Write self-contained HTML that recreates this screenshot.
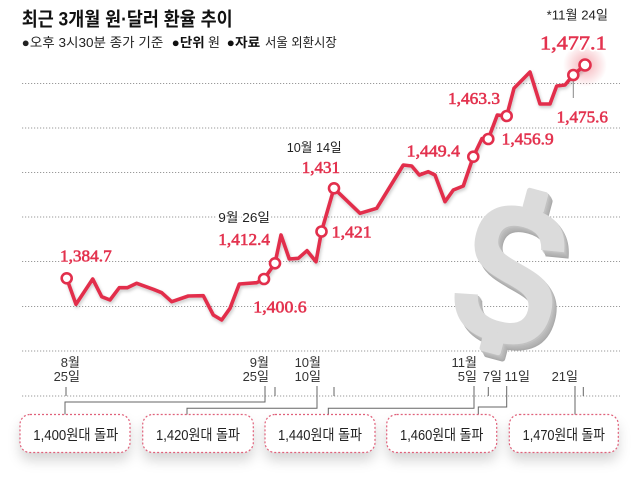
<!DOCTYPE html>
<html><head><meta charset="utf-8"><style>
html,body{margin:0;padding:0;background:#fff;}
svg{display:block;}
.ko{font-family:"Liberation Sans","Noto Sans CJK KR",sans-serif;}
.rk{font-family:"Liberation Serif","Noto Serif CJK SC",serif;fill:#fff;stroke:#fff;stroke-width:4;stroke-linejoin:round;}
.rd{font-family:"Liberation Serif","Noto Serif CJK SC",serif;fill:#e3334f;stroke:#e3334f;stroke-width:0.6;}
.dk{font-family:"Liberation Sans","Noto Sans CJK KR",sans-serif;fill:#222;font-size:13px;stroke:#fff;stroke-width:4;paint-order:stroke;stroke-linejoin:round;}
</style></head><body>
<svg width="640" height="490" viewBox="0 0 640 490" xmlns="http://www.w3.org/2000/svg">
<defs>
<filter id="bs" x="-20%" y="-30%" width="140%" height="200%"><feDropShadow dx="0" dy="8" stdDeviation="6" flood-color="#000" flood-opacity="0.16"/></filter>
<filter id="ls" x="-5%" y="-5%" width="110%" height="115%"><feDropShadow dx="1" dy="2" stdDeviation="1.5" flood-color="#000" flood-opacity="0.22"/></filter>
<radialGradient id="gl"><stop offset="0" stop-color="#e8505f" stop-opacity="0.45"/><stop offset="1" stop-color="#e8505f" stop-opacity="0"/></radialGradient>
<g id="dol">
<text x="0" y="70" text-anchor="middle" font-family="'Liberation Sans',sans-serif" font-weight="bold" font-size="195">S</text>
<rect x="-8" y="-86" width="26" height="22" rx="3"/>
<rect x="-14" y="62" width="26" height="22" rx="3"/>
</g>
</defs>

<!-- title -->
<text class="ko" x="21.7" y="25.5" font-size="19" font-weight="bold" fill="#111" textLength="211" lengthAdjust="spacingAndGlyphs">최근 3개월 원·달러 환율 추이</text>
<text class="ko" x="21.7" y="47" font-size="13" fill="#222" textLength="141.6" lengthAdjust="spacingAndGlyphs">●오후 3시30분 종가 기준</text>
<text class="ko" x="171.7" y="47" font-size="13" font-weight="bold" fill="#111" textLength="33" lengthAdjust="spacingAndGlyphs">●단위</text>
<text class="ko" x="208" y="47" font-size="13" fill="#222" textLength="12" lengthAdjust="spacingAndGlyphs">원</text>
<text class="ko" x="226.7" y="47" font-size="13" font-weight="bold" fill="#111" textLength="33.5" lengthAdjust="spacingAndGlyphs">●자료</text>
<text class="ko" x="265" y="47" font-size="13" fill="#222" textLength="71.7" lengthAdjust="spacingAndGlyphs">서울 외환시장</text>

<!-- gridlines -->
<g stroke="#9a9a9a" stroke-width="1" stroke-dasharray="1.2 1.8">
<line x1="22" y1="83.5" x2="620" y2="83.5"/>
<line x1="22" y1="128" x2="620" y2="128"/>
<line x1="22" y1="172.5" x2="620" y2="172.5"/>
<line x1="22" y1="217" x2="620" y2="217"/>
<line x1="22" y1="261.5" x2="620" y2="261.5"/>
<line x1="22" y1="306.5" x2="620" y2="306.5"/>
<line x1="22" y1="351" x2="620" y2="351"/>
<line x1="22" y1="396" x2="620" y2="396"/>
</g>

<!-- dollar sign -->
<g transform="translate(512 272) rotate(15) scale(0.84 1)">
<use href="#dol" x="7" y="5" fill="#a9a9a9"/>
<use href="#dol" x="6" y="4" fill="#b0b0b0"/>
<use href="#dol" x="5" y="3" fill="#b5b5b5"/>
<use href="#dol" x="3.5" y="2" fill="#bababa"/>
<use href="#dol" x="2" y="1" fill="#c2c2c2"/>
<use href="#dol" x="0" y="0" fill="#dbdbdb"/>
</g>

<!-- glow -->
<circle cx="585" cy="65" r="22" fill="url(#gl)"/>

<!-- line -->
<g filter="url(#ls)">
<polyline fill="none" stroke="#e22f4c" stroke-width="3.6" stroke-linejoin="round" stroke-linecap="round" points="66.7,278.3 76,304.3 92.7,279 101.7,296.7 110,300 119.3,287.7 127.3,287.7 136.7,283.3 153.3,289.3 161.7,292.7 171.7,301.7 188.3,296 203.3,295.7 213.3,315 221.7,320 230,308.3 239.3,284 256.7,282.7 264,279 275,263.3 281,235 289.3,259 298.3,258.3 307,250.7 316,261.7 321.5,231.5 334,188.3 360,213.3 376.7,208.3 403.3,165 411.7,166 419.3,175 428.3,171.7 435,175 445,201.7 453.3,190 463.3,186 473.3,156.7 482,138.5 488.3,139 497.3,115 506.7,116 514,88.3 530,72 540,104 550,104 556.7,86 565,85 573.3,75 585,65"/>
</g>
<line x1="573.3" y1="81" x2="573.3" y2="98" stroke="#888" stroke-width="1"/>
<g fill="#fff" stroke="#e22f4c" stroke-width="2.6">
<circle cx="66.7" cy="278.3" r="5"/>
<circle cx="264" cy="279" r="5"/>
<circle cx="275" cy="263.3" r="5"/>
<circle cx="321.5" cy="231.5" r="5"/>
<circle cx="334" cy="188.3" r="5"/>
<circle cx="473.3" cy="156.7" r="5"/>
<circle cx="488.3" cy="139" r="5"/>
<circle cx="506.7" cy="116" r="5"/>
<circle cx="573.3" cy="75" r="5"/>
<circle cx="585" cy="65" r="5.5"/>
</g>

<!-- red labels: knockout -->
<g class="rk">
<text x="540" y="49.5" font-size="20" textLength="66.7" lengthAdjust="spacingAndGlyphs">1,477.1</text>
<text x="556.7" y="122.3" font-size="17" textLength="51.3" lengthAdjust="spacingAndGlyphs">1,475.6</text>
<text x="448" y="104" font-size="17" textLength="52" lengthAdjust="spacingAndGlyphs">1,463.3</text>
<text x="501.7" y="144.6" font-size="17" textLength="52" lengthAdjust="spacingAndGlyphs">1,456.9</text>
<text x="406.7" y="156.3" font-size="17" textLength="53.3" lengthAdjust="spacingAndGlyphs">1,449.4</text>
<text x="301.7" y="173" font-size="17" textLength="38.3" lengthAdjust="spacingAndGlyphs">1,431</text>
<text x="331.7" y="237.3" font-size="17" textLength="40" lengthAdjust="spacingAndGlyphs">1,421</text>
<text x="218.3" y="244.8" font-size="17" textLength="51.7" lengthAdjust="spacingAndGlyphs">1,412.4</text>
<text x="253.3" y="312.3" font-size="17" textLength="53.4" lengthAdjust="spacingAndGlyphs">1,400.6</text>
<text x="60" y="261.6" font-size="17" textLength="51.7" lengthAdjust="spacingAndGlyphs">1,384.7</text>
</g>
<g class="rd">
<text x="540" y="49.5" font-size="20" textLength="66.7" lengthAdjust="spacingAndGlyphs">1,477.1</text>
<text x="556.7" y="122.3" font-size="17" textLength="51.3" lengthAdjust="spacingAndGlyphs">1,475.6</text>
<text x="448" y="104" font-size="17" textLength="52" lengthAdjust="spacingAndGlyphs">1,463.3</text>
<text x="501.7" y="144.6" font-size="17" textLength="52" lengthAdjust="spacingAndGlyphs">1,456.9</text>
<text x="406.7" y="156.3" font-size="17" textLength="53.3" lengthAdjust="spacingAndGlyphs">1,449.4</text>
<text x="301.7" y="173" font-size="17" textLength="38.3" lengthAdjust="spacingAndGlyphs">1,431</text>
<text x="331.7" y="237.3" font-size="17" textLength="40" lengthAdjust="spacingAndGlyphs">1,421</text>
<text x="218.3" y="244.8" font-size="17" textLength="51.7" lengthAdjust="spacingAndGlyphs">1,412.4</text>
<text x="253.3" y="312.3" font-size="17" textLength="53.4" lengthAdjust="spacingAndGlyphs">1,400.6</text>
<text x="60" y="261.6" font-size="17" textLength="51.7" lengthAdjust="spacingAndGlyphs">1,384.7</text>
</g>

<!-- dark labels -->
<text class="dk" x="546.7" y="19.5" textLength="61.3" lengthAdjust="spacingAndGlyphs">*11월 24일</text>
<text class="dk" x="286.7" y="152" textLength="55" lengthAdjust="spacingAndGlyphs">10월 14일</text>
<text class="dk" x="218.3" y="222" textLength="51.7" lengthAdjust="spacingAndGlyphs">9월 26일</text>

<!-- date labels -->
<g class="ko" font-size="13" fill="#333" text-anchor="end">
<text x="80" y="367">8월</text>
<text x="80" y="381">25일</text>
<text x="269" y="367">9월</text>
<text x="269" y="381">25일</text>
<text x="321" y="367">10월</text>
<text x="321" y="381">10일</text>
<text x="477" y="367">11월</text>
<text x="477" y="381">5일</text>
<text x="502" y="381">7일</text>
<text x="530" y="381">11일</text>
<text x="578" y="381">21일</text>
</g>

<!-- ticks & connectors -->
<g stroke="#666" stroke-width="1" fill="none">
<line x1="66" y1="387" x2="66" y2="396"/>
<line x1="275" y1="387" x2="275" y2="396"/>
<line x1="334" y1="387" x2="334" y2="396"/>
<line x1="488.3" y1="387" x2="488.3" y2="396"/>
<line x1="583.3" y1="387" x2="583.3" y2="396"/>
<path d="M65 415 V402 H265 V386"/>
<path d="M187 415 V408.3 H317 V386"/>
<path d="M328.3 415 V408.3 H474 V386"/>
<path d="M478.3 415 V407 H506.7 V386"/>
<path d="M575 415 V386"/>
</g>

<!-- boxes -->
<g filter="url(#bs)">
<rect x="20" y="414.5" width="110" height="38" rx="10" fill="#fff"/>
<rect x="142.7" y="414.5" width="110.6" height="38" rx="10" fill="#fff"/>
<rect x="265" y="414.5" width="110" height="38" rx="10" fill="#fff"/>
<rect x="386.7" y="414.5" width="110" height="38" rx="10" fill="#fff"/>
<rect x="509.3" y="414.5" width="109" height="38" rx="10" fill="#fff"/>
</g>
<g fill="none" stroke="#e0607a" stroke-width="1.2" stroke-dasharray="2 2">
<rect x="20" y="414.5" width="110" height="38" rx="10"/>
<rect x="142.7" y="414.5" width="110.6" height="38" rx="10"/>
<rect x="265" y="414.5" width="110" height="38" rx="10"/>
<rect x="386.7" y="414.5" width="110" height="38" rx="10"/>
<rect x="509.3" y="414.5" width="109" height="38" rx="10"/>
</g>
<g class="ko" font-size="14.5" fill="#222" text-anchor="middle">
<text x="75.8" y="440" textLength="85" lengthAdjust="spacingAndGlyphs">1,400원대 돌파</text>
<text x="198" y="440" textLength="84" lengthAdjust="spacingAndGlyphs">1,420원대 돌파</text>
<text x="320" y="440" textLength="84" lengthAdjust="spacingAndGlyphs">1,440원대 돌파</text>
<text x="441.7" y="440" textLength="83.3" lengthAdjust="spacingAndGlyphs">1,460원대 돌파</text>
<text x="563.8" y="440" textLength="82.3" lengthAdjust="spacingAndGlyphs">1,470원대 돌파</text>
</g>
</svg>
</body></html>
